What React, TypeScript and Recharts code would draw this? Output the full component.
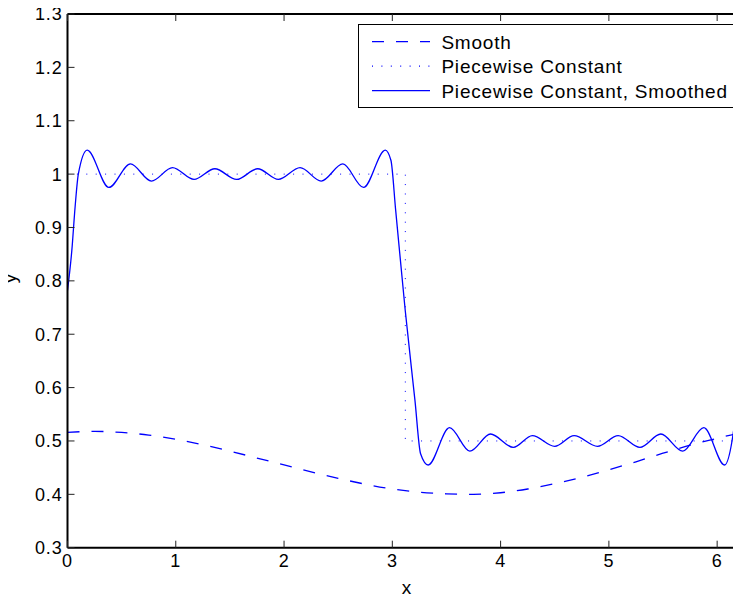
import { LineChart, Line, XAxis, YAxis, Legend } from "recharts";

// axis ticks
const xTicks = [0, 1, 2, 3, 4, 5, 6];
const yTicks = [0.3, 0.4, 0.5, 0.6, 0.7, 0.8, 0.9, 1, 1.1, 1.2, 1.3];
const xMax = 6.211;

// "Smooth" (dashed)
const smoothX = [0, 0.25, 0.5, 0.75, 1, 1.25, 1.5, 1.75, 2, 2.25, 2.5, 2.75, 3, 3.25, 3.5, 3.75, 4, 4.25, 4.5, 4.75, 5, 5.25, 5.5, 5.75, 6, 6.21];
const smoothY = [0.516, 0.518, 0.516, 0.511, 0.503, 0.493, 0.481, 0.468, 0.455, 0.442, 0.43, 0.419, 0.41, 0.404, 0.401, 0.4, 0.403, 0.41, 0.42, 0.432, 0.446, 0.461, 0.477, 0.492, 0.505, 0.515];

// "Piecewise Constant" (dotted)
const stepX = [0, 3.12, 3.12, 6.21];
const stepY = [1, 1, 0.5, 0.5];

// "Piecewise Constant, Smoothed" (solid)
const smoothedX = [0, 0.04, 0.07, 0.1, 0.182, 0.382, 0.581, 0.775, 0.97, 1.169, 1.361, 1.562, 1.756, 1.947, 2.148, 2.343, 2.543, 2.734, 2.935, 2.987, 3.031, 3.119, 3.209, 3.261, 3.331, 3.528, 3.716, 3.907, 4.117, 4.293, 4.5, 4.679, 4.895, 5.086, 5.287, 5.48, 5.682, 5.877, 6.068, 6.148, 6.185, 6.21];
const smoothedY = [0.782, 0.857, 0.938, 1.0, 1.045, 0.975, 1.019, 0.987, 1.012, 0.99, 1.01, 0.99, 1.01, 0.99, 1.012, 0.987, 1.019, 0.975, 1.045, 1.026, 0.932, 0.745, 0.576, 0.476, 0.455, 0.525, 0.481, 0.513, 0.488, 0.51, 0.49, 0.51, 0.49, 0.51, 0.488, 0.513, 0.481, 0.525, 0.455, 0.514, 0.576, 0.65];

const legendNames = ["Smooth", "Piecewise Constant", "Piecewise Constant, Smoothed"];
const legendDash = ["12 12", "1 8.4", undefined];

const toRows = (xs: number[], ys: number[]) => xs.map((x, i) => ({ x, y: ys[i] }));

const BLUE = "#0000ff";
const FONT = '"Liberation Sans", Arial, sans-serif';
const PLOT = { left: 67.5, right: 740, top: 14, bottom: 547.7 };
const TICK = 7;
const TICK_COLOR = "#222";

function LegendBox() {
  return (
    <svg width={380} height={86} style={{ display: "block", overflow: "visible" }}>
      <rect x={0.5} y={0.5} width={378} height={83} fill="#fff" stroke="#000" strokeWidth={1} />
      {legendNames.map((name, i) => {
        const cy = 17.7 + i * 24.5;
        return (
          <g key={name}>
            <line x1={14} x2={72} y1={cy} y2={cy} stroke={BLUE} strokeWidth={1.3} strokeDasharray={legendDash[i]} />
            <text x={83.4} y={cy + 6.8} fontSize={19} fill="#000" fontFamily={FONT}>
              {name}
            </text>
          </g>
        );
      })}
    </svg>
  );
}

function XLabel() {
  return (
    <text x={407} y={594} textAnchor="middle" fontSize={19} fill="#000" fontFamily={FONT}>
      x
    </text>
  );
}

function YLabel() {
  return (
    <text x={16} y={278} transform="rotate(-90, 16, 278)" textAnchor="middle" fontSize={19} fill="#000" fontFamily={FONT}>
      y
    </text>
  );
}

function BottomTick(props: any) {
  const c = props.payload.coordinate;
  return (
    <g>
      <line x1={c} x2={c} y1={PLOT.bottom} y2={PLOT.bottom - TICK} stroke={TICK_COLOR} strokeWidth={1} />
      <text x={c} y={567} textAnchor="middle" fontSize={18} fill="#000" fontFamily={FONT}>
        {props.payload.value}
      </text>
    </g>
  );
}

function LeftTick(props: any) {
  const c = props.payload.coordinate;
  const v = props.payload.value as number;
  return (
    <g>
      <line x1={PLOT.left} x2={PLOT.left + TICK} y1={c} y2={c} stroke={TICK_COLOR} strokeWidth={1} />
      <text x={62.5} y={c + 6.4} textAnchor="end" fontSize={18} fill="#000" fontFamily={FONT}>
        {String(Number(v.toFixed(1)))}
      </text>
    </g>
  );
}

function TopTick(props: any) {
  const c = props.payload.coordinate;
  return <line x1={c} x2={c} y1={PLOT.top} y2={PLOT.top + TICK} stroke={TICK_COLOR} strokeWidth={1} />;
}

function RightTick(props: any) {
  const c = props.payload.coordinate;
  return <line x1={PLOT.right} x2={PLOT.right - TICK} y1={c} y2={c} stroke={TICK_COLOR} strokeWidth={1} />;
}

const axisLine = { stroke: "#000", strokeWidth: 2 };

export default function App() {
  return (
    <div style={{ fontFamily: FONT, letterSpacing: "0.8px", width: 741, height: 602, margin: "-8px 0 0 -8px" }}>
      <LineChart width={741} height={602} margin={{ top: 13, right: 0, bottom: 0, left: 8 }}>
        <XAxis
          dataKey="x"
          type="number"
          domain={[0, xMax]}
          ticks={xTicks}
          allowDataOverflow
          height={54.3}
          tickSize={0}
          tickLine={false}
          axisLine={axisLine}
          tick={<BottomTick />}
          label={<XLabel />}
        />
        <XAxis
          xAxisId="top"
          orientation="top"
          dataKey="x"
          type="number"
          domain={[0, xMax]}
          ticks={xTicks}
          allowDataOverflow
          height={1}
          tickSize={0}
          tickLine={false}
          axisLine={axisLine}
          tick={<TopTick />}
        />
        <YAxis
          type="number"
          domain={[0.3, 1.3]}
          ticks={yTicks}
          allowDataOverflow
          width={59.5}
          tickSize={0}
          tickLine={false}
          axisLine={axisLine}
          tick={<LeftTick />}
          label={<YLabel />}
        />
        <YAxis
          yAxisId="right"
          orientation="right"
          type="number"
          domain={[0.3, 1.3]}
          ticks={yTicks}
          allowDataOverflow
          width={1}
          tickSize={0}
          tickLine={false}
          axisLine={axisLine}
          tick={<RightTick />}
        />
        <Line
          data={toRows(smoothX, smoothY)}
          dataKey="y"
          type="monotone"
          stroke={BLUE}
          strokeWidth={1.3}
          strokeDasharray="12 12"
          dot={false}
          isAnimationActive={false}
          name="Smooth"
        />
        <Line
          data={toRows(stepX, stepY)}
          xAxisId="top"
          yAxisId="right"
          dataKey="y"
          type="linear"
          stroke={BLUE}
          strokeWidth={1}
          strokeDasharray="1 8.4"
          dot={false}
          isAnimationActive={false}
          name="Piecewise Constant"
        />
        <Line
          data={toRows(smoothedX, smoothedY)}
          dataKey="y"
          type="monotone"
          stroke={BLUE}
          strokeWidth={1.3}
          dot={false}
          isAnimationActive={false}
          name="Piecewise Constant, Smoothed"
        />
        <Legend
          layout="vertical"
          align="center"
          verticalAlign="middle"
          wrapperStyle={{ position: "absolute", left: 358, top: 24, width: 380, height: 86 }}
          content={() => <LegendBox />}
        />
      </LineChart>
    </div>
  );
}
